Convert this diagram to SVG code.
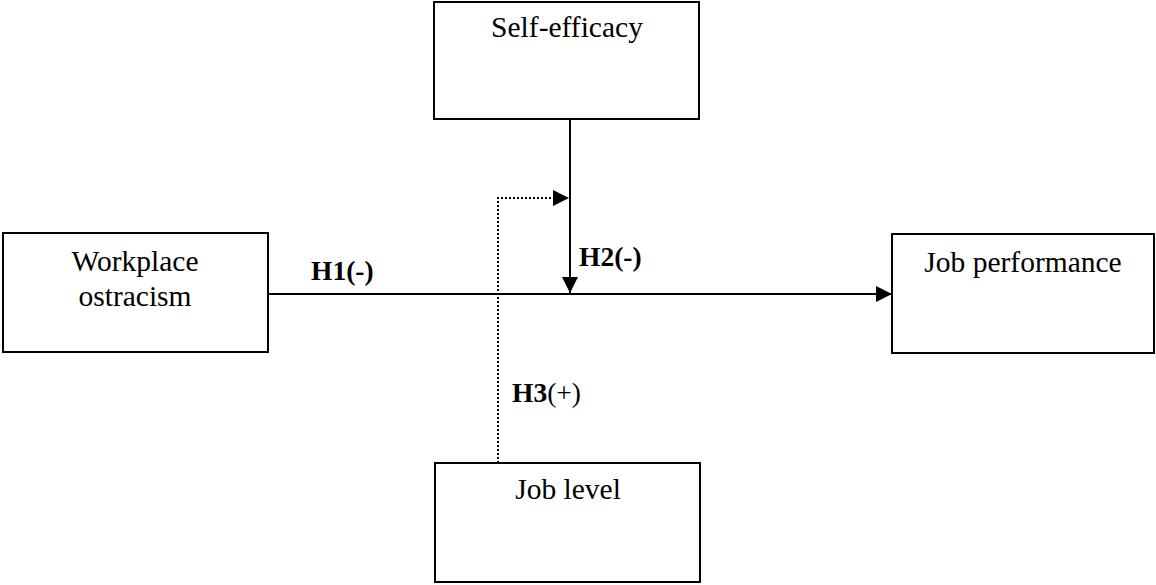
<svg xmlns="http://www.w3.org/2000/svg" width="1156" height="585" viewBox="0 0 1156 585">
<style>
.box{fill:#fff;stroke:#000;stroke-width:2}
.t{font-family:"Liberation Serif","Times New Roman",serif;font-size:29.5px;fill:#000;text-anchor:middle}
.lbl{font-family:"Liberation Serif","Times New Roman",serif;font-size:27.5px;fill:#000}
.b{font-weight:bold}
.ln{fill:none;stroke:#000;stroke-width:2}
.dot{fill:none;stroke:#000;stroke-width:2;stroke-dasharray:2 2}
</style>
<defs>
<marker id="ah" markerUnits="userSpaceOnUse" markerWidth="17" markerHeight="17" viewBox="0 0 17 17" refX="16" refY="8.5" orient="auto">
<path d="M0,0.5 L16,8.5 L0,16.5 Z" fill="#000"/>
</marker>
</defs>
<rect width="1156" height="585" fill="#fff"/>
<g id="connectors">
<line class="ln" x1="268" y1="294" x2="892" y2="294" marker-end="url(#ah)"/>
<line class="ln" x1="570" y1="119" x2="570" y2="293" marker-end="url(#ah)"/>
<polyline class="dot" points="498,463 498,198 569,198" marker-end="url(#ah)"/>
</g>
<g id="self-efficacy">
<rect class="box" x="434" y="2" width="265" height="117"/>
<text class="t" x="567" y="37">Self-efficacy</text>
</g>
<g id="workplace-ostracism">
<rect class="box" x="3" y="233" width="265" height="119"/>
<text class="t" x="135" y="271">Workplace</text>
<text class="t" x="135" y="306">ostracism</text>
</g>
<g id="job-performance">
<rect class="box" x="892" y="234" width="262" height="119"/>
<text class="t" x="1023" y="272">Job performance</text>
</g>
<g id="job-level">
<rect class="box" x="435" y="463" width="265" height="119"/>
<text class="t" x="568" y="499">Job level</text>
</g>
<g id="labels">
<text class="lbl b" x="311" y="280">H1(-)</text>
<text class="lbl b" x="579" y="266">H2(-)</text>
<text class="lbl" x="512" y="402"><tspan class="b">H3</tspan>(+)</text>
</g>
</svg>
